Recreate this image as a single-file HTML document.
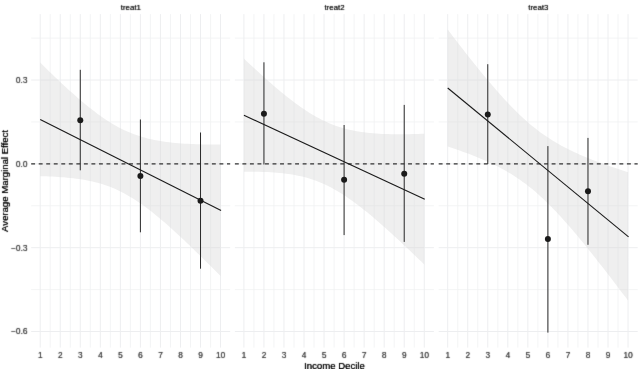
<!DOCTYPE html>
<html><head><meta charset="utf-8"><style>
html,body{margin:0;padding:0;background:#fff;width:638px;height:369px;overflow:hidden}
svg text{font-family:"Liberation Sans",sans-serif}
svg{will-change:transform}
</style></head><body>
<svg width="638" height="369" viewBox="0 0 638 369" style="position:absolute;left:0;top:0">
<defs><filter id="tsoft" filterUnits="userSpaceOnUse" x="0" y="0" width="638" height="369" color-interpolation-filters="sRGB"><feConvolveMatrix order="3" kernelMatrix="0.01440 0.09120 0.01440 0.09120 0.57760 0.09120 0.01440 0.09120 0.01440" edgeMode="duplicate" preserveAlpha="false"/></filter></defs>
<rect x="0" y="0" width="638" height="369" fill="#fff"/>
<line x1="31.18" x2="230.18" y1="38.10" y2="38.10" stroke="#f0f1f3" stroke-width="0.8"/>
<line x1="31.18" x2="230.18" y1="121.93" y2="121.93" stroke="#f0f1f3" stroke-width="0.8"/>
<line x1="31.18" x2="230.18" y1="205.77" y2="205.77" stroke="#f0f1f3" stroke-width="0.8"/>
<line x1="31.18" x2="230.18" y1="289.60" y2="289.60" stroke="#f0f1f3" stroke-width="0.8"/>
<line x1="50.22" x2="50.22" y1="14.10" y2="347.60" stroke="#f0f1f3" stroke-width="0.8"/>
<line x1="70.26" x2="70.26" y1="14.10" y2="347.60" stroke="#f0f1f3" stroke-width="0.8"/>
<line x1="90.30" x2="90.30" y1="14.10" y2="347.60" stroke="#f0f1f3" stroke-width="0.8"/>
<line x1="110.34" x2="110.34" y1="14.10" y2="347.60" stroke="#f0f1f3" stroke-width="0.8"/>
<line x1="130.38" x2="130.38" y1="14.10" y2="347.60" stroke="#f0f1f3" stroke-width="0.8"/>
<line x1="150.42" x2="150.42" y1="14.10" y2="347.60" stroke="#f0f1f3" stroke-width="0.8"/>
<line x1="170.46" x2="170.46" y1="14.10" y2="347.60" stroke="#f0f1f3" stroke-width="0.8"/>
<line x1="190.50" x2="190.50" y1="14.10" y2="347.60" stroke="#f0f1f3" stroke-width="0.8"/>
<line x1="210.54" x2="210.54" y1="14.10" y2="347.60" stroke="#f0f1f3" stroke-width="0.8"/>
<line x1="31.18" x2="230.18" y1="80.02" y2="80.02" stroke="#edeef0" stroke-width="1.0"/>
<line x1="31.18" x2="230.18" y1="163.85" y2="163.85" stroke="#edeef0" stroke-width="1.0"/>
<line x1="31.18" x2="230.18" y1="247.68" y2="247.68" stroke="#edeef0" stroke-width="1.0"/>
<line x1="31.18" x2="230.18" y1="331.51" y2="331.51" stroke="#edeef0" stroke-width="1.0"/>
<line x1="40.20" x2="40.20" y1="14.10" y2="347.60" stroke="#edeef0" stroke-width="1.0"/>
<line x1="60.24" x2="60.24" y1="14.10" y2="347.60" stroke="#edeef0" stroke-width="1.0"/>
<line x1="80.28" x2="80.28" y1="14.10" y2="347.60" stroke="#edeef0" stroke-width="1.0"/>
<line x1="100.32" x2="100.32" y1="14.10" y2="347.60" stroke="#edeef0" stroke-width="1.0"/>
<line x1="120.36" x2="120.36" y1="14.10" y2="347.60" stroke="#edeef0" stroke-width="1.0"/>
<line x1="140.40" x2="140.40" y1="14.10" y2="347.60" stroke="#edeef0" stroke-width="1.0"/>
<line x1="160.44" x2="160.44" y1="14.10" y2="347.60" stroke="#edeef0" stroke-width="1.0"/>
<line x1="180.48" x2="180.48" y1="14.10" y2="347.60" stroke="#edeef0" stroke-width="1.0"/>
<line x1="200.52" x2="200.52" y1="14.10" y2="347.60" stroke="#edeef0" stroke-width="1.0"/>
<line x1="220.56" x2="220.56" y1="14.10" y2="347.60" stroke="#edeef0" stroke-width="1.0"/>
<line x1="234.88" x2="433.88" y1="38.10" y2="38.10" stroke="#f0f1f3" stroke-width="0.8"/>
<line x1="234.88" x2="433.88" y1="121.93" y2="121.93" stroke="#f0f1f3" stroke-width="0.8"/>
<line x1="234.88" x2="433.88" y1="205.77" y2="205.77" stroke="#f0f1f3" stroke-width="0.8"/>
<line x1="234.88" x2="433.88" y1="289.60" y2="289.60" stroke="#f0f1f3" stroke-width="0.8"/>
<line x1="253.92" x2="253.92" y1="14.10" y2="347.60" stroke="#f0f1f3" stroke-width="0.8"/>
<line x1="273.96" x2="273.96" y1="14.10" y2="347.60" stroke="#f0f1f3" stroke-width="0.8"/>
<line x1="294.00" x2="294.00" y1="14.10" y2="347.60" stroke="#f0f1f3" stroke-width="0.8"/>
<line x1="314.04" x2="314.04" y1="14.10" y2="347.60" stroke="#f0f1f3" stroke-width="0.8"/>
<line x1="334.08" x2="334.08" y1="14.10" y2="347.60" stroke="#f0f1f3" stroke-width="0.8"/>
<line x1="354.12" x2="354.12" y1="14.10" y2="347.60" stroke="#f0f1f3" stroke-width="0.8"/>
<line x1="374.16" x2="374.16" y1="14.10" y2="347.60" stroke="#f0f1f3" stroke-width="0.8"/>
<line x1="394.20" x2="394.20" y1="14.10" y2="347.60" stroke="#f0f1f3" stroke-width="0.8"/>
<line x1="414.24" x2="414.24" y1="14.10" y2="347.60" stroke="#f0f1f3" stroke-width="0.8"/>
<line x1="234.88" x2="433.88" y1="80.02" y2="80.02" stroke="#edeef0" stroke-width="1.0"/>
<line x1="234.88" x2="433.88" y1="163.85" y2="163.85" stroke="#edeef0" stroke-width="1.0"/>
<line x1="234.88" x2="433.88" y1="247.68" y2="247.68" stroke="#edeef0" stroke-width="1.0"/>
<line x1="234.88" x2="433.88" y1="331.51" y2="331.51" stroke="#edeef0" stroke-width="1.0"/>
<line x1="243.90" x2="243.90" y1="14.10" y2="347.60" stroke="#edeef0" stroke-width="1.0"/>
<line x1="263.94" x2="263.94" y1="14.10" y2="347.60" stroke="#edeef0" stroke-width="1.0"/>
<line x1="283.98" x2="283.98" y1="14.10" y2="347.60" stroke="#edeef0" stroke-width="1.0"/>
<line x1="304.02" x2="304.02" y1="14.10" y2="347.60" stroke="#edeef0" stroke-width="1.0"/>
<line x1="324.06" x2="324.06" y1="14.10" y2="347.60" stroke="#edeef0" stroke-width="1.0"/>
<line x1="344.10" x2="344.10" y1="14.10" y2="347.60" stroke="#edeef0" stroke-width="1.0"/>
<line x1="364.14" x2="364.14" y1="14.10" y2="347.60" stroke="#edeef0" stroke-width="1.0"/>
<line x1="384.18" x2="384.18" y1="14.10" y2="347.60" stroke="#edeef0" stroke-width="1.0"/>
<line x1="404.22" x2="404.22" y1="14.10" y2="347.60" stroke="#edeef0" stroke-width="1.0"/>
<line x1="424.26" x2="424.26" y1="14.10" y2="347.60" stroke="#edeef0" stroke-width="1.0"/>
<line x1="438.68" x2="637.68" y1="38.10" y2="38.10" stroke="#f0f1f3" stroke-width="0.8"/>
<line x1="438.68" x2="637.68" y1="121.93" y2="121.93" stroke="#f0f1f3" stroke-width="0.8"/>
<line x1="438.68" x2="637.68" y1="205.77" y2="205.77" stroke="#f0f1f3" stroke-width="0.8"/>
<line x1="438.68" x2="637.68" y1="289.60" y2="289.60" stroke="#f0f1f3" stroke-width="0.8"/>
<line x1="457.72" x2="457.72" y1="14.10" y2="347.60" stroke="#f0f1f3" stroke-width="0.8"/>
<line x1="477.76" x2="477.76" y1="14.10" y2="347.60" stroke="#f0f1f3" stroke-width="0.8"/>
<line x1="497.80" x2="497.80" y1="14.10" y2="347.60" stroke="#f0f1f3" stroke-width="0.8"/>
<line x1="517.84" x2="517.84" y1="14.10" y2="347.60" stroke="#f0f1f3" stroke-width="0.8"/>
<line x1="537.88" x2="537.88" y1="14.10" y2="347.60" stroke="#f0f1f3" stroke-width="0.8"/>
<line x1="557.92" x2="557.92" y1="14.10" y2="347.60" stroke="#f0f1f3" stroke-width="0.8"/>
<line x1="577.96" x2="577.96" y1="14.10" y2="347.60" stroke="#f0f1f3" stroke-width="0.8"/>
<line x1="598.00" x2="598.00" y1="14.10" y2="347.60" stroke="#f0f1f3" stroke-width="0.8"/>
<line x1="618.04" x2="618.04" y1="14.10" y2="347.60" stroke="#f0f1f3" stroke-width="0.8"/>
<line x1="438.68" x2="637.68" y1="80.02" y2="80.02" stroke="#edeef0" stroke-width="1.0"/>
<line x1="438.68" x2="637.68" y1="163.85" y2="163.85" stroke="#edeef0" stroke-width="1.0"/>
<line x1="438.68" x2="637.68" y1="247.68" y2="247.68" stroke="#edeef0" stroke-width="1.0"/>
<line x1="438.68" x2="637.68" y1="331.51" y2="331.51" stroke="#edeef0" stroke-width="1.0"/>
<line x1="447.70" x2="447.70" y1="14.10" y2="347.60" stroke="#edeef0" stroke-width="1.0"/>
<line x1="467.74" x2="467.74" y1="14.10" y2="347.60" stroke="#edeef0" stroke-width="1.0"/>
<line x1="487.78" x2="487.78" y1="14.10" y2="347.60" stroke="#edeef0" stroke-width="1.0"/>
<line x1="507.82" x2="507.82" y1="14.10" y2="347.60" stroke="#edeef0" stroke-width="1.0"/>
<line x1="527.86" x2="527.86" y1="14.10" y2="347.60" stroke="#edeef0" stroke-width="1.0"/>
<line x1="547.90" x2="547.90" y1="14.10" y2="347.60" stroke="#edeef0" stroke-width="1.0"/>
<line x1="567.94" x2="567.94" y1="14.10" y2="347.60" stroke="#edeef0" stroke-width="1.0"/>
<line x1="587.98" x2="587.98" y1="14.10" y2="347.60" stroke="#edeef0" stroke-width="1.0"/>
<line x1="608.02" x2="608.02" y1="14.10" y2="347.60" stroke="#edeef0" stroke-width="1.0"/>
<line x1="628.06" x2="628.06" y1="14.10" y2="347.60" stroke="#edeef0" stroke-width="1.0"/>
<path d="M40.20,62.60 L43.21,65.56 L46.21,68.50 L49.22,71.42 L52.22,74.32 L55.23,77.20 L58.24,80.05 L61.24,82.88 L64.25,85.68 L67.25,88.44 L70.26,91.17 L73.27,93.87 L76.27,96.52 L79.28,99.13 L82.28,101.69 L85.29,104.20 L88.30,106.65 L91.30,109.05 L94.31,111.37 L97.31,113.63 L100.32,115.82 L103.33,117.92 L106.33,119.95 L109.34,121.88 L112.34,123.73 L115.35,125.48 L118.36,127.14 L121.36,128.70 L124.37,130.17 L127.37,131.54 L130.38,132.82 L133.39,134.00 L136.39,135.09 L139.40,136.09 L142.40,137.02 L145.41,137.86 L148.42,138.63 L151.42,139.33 L154.43,139.97 L157.43,140.55 L160.44,141.07 L163.45,141.53 L166.45,141.95 L169.46,142.33 L172.46,142.67 L175.47,142.97 L178.48,143.23 L181.48,143.46 L184.49,143.67 L187.49,143.84 L190.50,143.99 L193.51,144.12 L196.51,144.23 L199.52,144.32 L202.52,144.39 L205.53,144.44 L208.54,144.48 L211.54,144.50 L214.55,144.51 L217.55,144.51 L220.56,144.50 L220.56,276.10 L217.55,273.06 L214.55,270.03 L211.54,267.01 L208.54,264.00 L205.53,261.01 L202.52,258.03 L199.52,255.07 L196.51,252.13 L193.51,249.21 L190.50,246.31 L187.49,243.43 L184.49,240.57 L181.48,237.75 L178.48,234.95 L175.47,232.18 L172.46,229.45 L169.46,226.76 L166.45,224.11 L163.45,221.50 L160.44,218.93 L157.43,216.42 L154.43,213.97 L151.42,211.58 L148.42,209.25 L145.41,206.99 L142.40,204.80 L139.40,202.70 L136.39,200.67 L133.39,198.73 L130.38,196.88 L127.37,195.13 L124.37,193.47 L121.36,191.91 L118.36,190.44 L115.35,189.07 L112.34,187.79 L109.34,186.61 L106.33,185.51 L103.33,184.51 L100.32,183.58 L97.31,182.74 L94.31,181.97 L91.30,181.26 L88.30,180.63 L85.29,180.05 L82.28,179.53 L79.28,179.06 L76.27,178.64 L73.27,178.26 L70.26,177.93 L67.25,177.63 L64.25,177.36 L61.24,177.13 L58.24,176.93 L55.23,176.75 L52.22,176.60 L49.22,176.47 L46.21,176.36 L43.21,176.27 L40.20,176.20Z" fill="rgba(215,215,215,0.4)"/>
<path d="M243.90,58.60 L246.91,61.43 L249.91,64.24 L252.92,67.04 L255.92,69.81 L258.93,72.56 L261.94,75.28 L264.94,77.98 L267.95,80.65 L270.95,83.29 L273.96,85.89 L276.97,88.46 L279.97,90.99 L282.98,93.47 L285.98,95.90 L288.99,98.29 L292.00,100.62 L295.00,102.88 L298.01,105.09 L301.01,107.22 L304.02,109.29 L307.03,111.27 L310.03,113.18 L313.04,114.99 L316.04,116.72 L319.05,118.36 L322.06,119.91 L325.06,121.35 L328.07,122.71 L331.07,123.97 L334.08,125.13 L337.09,126.21 L340.09,127.19 L343.10,128.09 L346.10,128.91 L349.11,129.65 L352.12,130.31 L355.12,130.91 L358.13,131.44 L361.13,131.91 L364.14,132.33 L367.15,132.69 L370.15,133.01 L373.16,133.29 L376.16,133.52 L379.17,133.71 L382.18,133.88 L385.18,134.00 L388.19,134.11 L391.19,134.18 L394.20,134.23 L397.21,134.25 L400.21,134.26 L403.22,134.24 L406.22,134.21 L409.23,134.16 L412.24,134.09 L415.24,134.02 L418.25,133.92 L421.25,133.82 L424.26,133.70 L424.26,264.50 L421.25,261.59 L418.25,258.68 L415.24,255.79 L412.24,252.92 L409.23,250.06 L406.22,247.21 L403.22,244.38 L400.21,241.57 L397.21,238.78 L394.20,236.01 L391.19,233.26 L388.19,230.53 L385.18,227.84 L382.18,225.17 L379.17,222.54 L376.16,219.93 L373.16,217.37 L370.15,214.85 L367.15,212.37 L364.14,209.94 L361.13,207.56 L358.13,205.23 L355.12,202.97 L352.12,200.77 L349.11,198.64 L346.10,196.58 L343.10,194.60 L340.09,192.70 L337.09,190.89 L334.08,189.17 L331.07,187.54 L328.07,186.00 L325.06,184.56 L322.06,183.21 L319.05,181.96 L316.04,180.80 L313.04,179.73 L310.03,178.75 L307.03,177.86 L304.02,177.05 L301.01,176.31 L298.01,175.65 L295.00,175.06 L292.00,174.53 L288.99,174.06 L285.98,173.65 L282.98,173.29 L279.97,172.97 L276.97,172.70 L273.96,172.47 L270.95,172.28 L267.95,172.12 L264.94,171.99 L261.94,171.90 L258.93,171.82 L255.92,171.78 L252.92,171.75 L249.91,171.75 L246.91,171.77 L243.90,171.80Z" fill="rgba(215,215,215,0.4)"/>
<path d="M447.70,29.60 L450.71,33.54 L453.71,37.46 L456.72,41.36 L459.72,45.24 L462.73,49.11 L465.74,52.95 L468.74,56.76 L471.75,60.55 L474.75,64.31 L477.76,68.04 L480.77,71.73 L483.77,75.38 L486.78,79.00 L489.78,82.57 L492.79,86.10 L495.80,89.57 L498.80,92.99 L501.81,96.34 L504.81,99.64 L507.82,102.86 L510.83,106.01 L513.83,109.08 L516.84,112.07 L519.84,114.97 L522.85,117.78 L525.86,120.50 L528.86,123.13 L531.87,125.65 L534.87,128.08 L537.88,130.42 L540.89,132.66 L543.89,134.81 L546.90,136.86 L549.90,138.83 L552.91,140.72 L555.92,142.52 L558.92,144.26 L561.93,145.92 L564.93,147.52 L567.94,149.05 L570.95,150.54 L573.95,151.96 L576.96,153.35 L579.96,154.68 L582.97,155.98 L585.98,157.24 L588.98,158.46 L591.99,159.65 L594.99,160.81 L598.00,161.95 L601.01,163.06 L604.01,164.15 L607.02,165.21 L610.02,166.26 L613.03,167.29 L616.04,168.30 L619.04,169.29 L622.05,170.28 L625.05,171.24 L628.06,172.20 L628.06,300.60 L625.05,296.61 L622.05,292.63 L619.04,288.67 L616.04,284.72 L613.03,280.78 L610.02,276.86 L607.02,272.96 L604.01,269.08 L601.01,265.22 L598.00,261.39 L594.99,257.57 L591.99,253.79 L588.98,250.03 L585.98,246.31 L582.97,242.62 L579.96,238.97 L576.96,235.36 L573.95,231.80 L570.95,228.28 L567.94,224.81 L564.93,221.40 L561.93,218.05 L558.92,214.77 L555.92,211.56 L552.91,208.42 L549.90,205.36 L546.90,202.38 L543.89,199.49 L540.89,196.69 L537.88,193.98 L534.87,191.37 L531.87,188.85 L528.86,186.43 L525.86,184.11 L522.85,181.89 L519.84,179.75 L516.84,177.71 L513.83,175.75 L510.83,173.87 L507.82,172.08 L504.81,170.35 L501.81,168.70 L498.80,167.11 L495.80,165.58 L492.79,164.10 L489.78,162.68 L486.78,161.31 L483.77,159.98 L480.77,158.68 L477.76,157.43 L474.75,156.21 L471.75,155.02 L468.74,153.87 L465.74,152.73 L462.73,151.63 L459.72,150.54 L456.72,149.48 L453.71,148.44 L450.71,147.41 L447.70,146.40Z" fill="rgba(215,215,215,0.4)"/>
<line x1="31.18" x2="230.18" y1="163.85" y2="163.85" stroke="#333333" stroke-width="1.3" stroke-dasharray="3.9 3.63"/>
<line x1="234.88" x2="433.88" y1="163.85" y2="163.85" stroke="#333333" stroke-width="1.3" stroke-dasharray="3.9 3.63"/>
<line x1="438.68" x2="637.68" y1="163.85" y2="163.85" stroke="#333333" stroke-width="1.3" stroke-dasharray="3.9 3.63"/>
<line x1="80.28" x2="80.28" y1="69.80" y2="170.30" stroke="#2a2a2a" stroke-width="1.0"/>
<line x1="140.40" x2="140.40" y1="119.50" y2="232.30" stroke="#2a2a2a" stroke-width="1.0"/>
<line x1="200.52" x2="200.52" y1="132.50" y2="268.70" stroke="#2a2a2a" stroke-width="1.0"/>
<line x1="40.20" x2="221.06" y1="119.40" y2="210.55" stroke="#1a1a1a" stroke-width="1.1"/>
<circle cx="80.28" cy="120.20" r="3.0" fill="#1a1a1a"/>
<circle cx="140.40" cy="176.10" r="3.0" fill="#1a1a1a"/>
<circle cx="200.52" cy="200.80" r="3.0" fill="#1a1a1a"/>
<line x1="263.94" x2="263.94" y1="62.30" y2="164.50" stroke="#2a2a2a" stroke-width="1.0"/>
<line x1="344.10" x2="344.10" y1="125.00" y2="235.10" stroke="#2a2a2a" stroke-width="1.0"/>
<line x1="404.22" x2="404.22" y1="104.90" y2="241.90" stroke="#2a2a2a" stroke-width="1.0"/>
<line x1="243.90" x2="424.76" y1="115.20" y2="199.33" stroke="#1a1a1a" stroke-width="1.1"/>
<circle cx="263.94" cy="113.70" r="3.0" fill="#1a1a1a"/>
<circle cx="344.10" cy="179.70" r="3.0" fill="#1a1a1a"/>
<circle cx="404.22" cy="173.80" r="3.0" fill="#1a1a1a"/>
<line x1="487.78" x2="487.78" y1="64.20" y2="164.00" stroke="#2a2a2a" stroke-width="1.0"/>
<line x1="547.90" x2="547.90" y1="146.10" y2="332.60" stroke="#2a2a2a" stroke-width="1.0"/>
<line x1="587.98" x2="587.98" y1="137.90" y2="244.80" stroke="#2a2a2a" stroke-width="1.0"/>
<line x1="447.70" x2="628.56" y1="88.00" y2="236.81" stroke="#1a1a1a" stroke-width="1.1"/>
<circle cx="487.78" cy="114.40" r="3.0" fill="#1a1a1a"/>
<circle cx="547.90" cy="239.00" r="3.0" fill="#1a1a1a"/>
<circle cx="587.98" cy="191.20" r="3.0" fill="#1a1a1a"/>
<g filter="url(#tsoft)">
<g transform="translate(130.78,10.40) scale(1,1.0)" font-size="7.9" fill="#1a1a1a" text-anchor="middle"><text>treat1</text><text x="0.1">treat1</text></g>
<g transform="translate(40.20,358.20) scale(1,1.0)" font-size="8.3" fill="#444444" text-anchor="middle"><text>1</text><text x="0.15">1</text></g>
<g transform="translate(60.24,358.20) scale(1,1.0)" font-size="8.3" fill="#444444" text-anchor="middle"><text>2</text><text x="0.15">2</text></g>
<g transform="translate(80.28,358.20) scale(1,1.0)" font-size="8.3" fill="#444444" text-anchor="middle"><text>3</text><text x="0.15">3</text></g>
<g transform="translate(100.32,358.20) scale(1,1.0)" font-size="8.3" fill="#444444" text-anchor="middle"><text>4</text><text x="0.15">4</text></g>
<g transform="translate(120.36,358.20) scale(1,1.0)" font-size="8.3" fill="#444444" text-anchor="middle"><text>5</text><text x="0.15">5</text></g>
<g transform="translate(140.40,358.20) scale(1,1.0)" font-size="8.3" fill="#444444" text-anchor="middle"><text>6</text><text x="0.15">6</text></g>
<g transform="translate(160.44,358.20) scale(1,1.0)" font-size="8.3" fill="#444444" text-anchor="middle"><text>7</text><text x="0.15">7</text></g>
<g transform="translate(180.48,358.20) scale(1,1.0)" font-size="8.3" fill="#444444" text-anchor="middle"><text>8</text><text x="0.15">8</text></g>
<g transform="translate(200.52,358.20) scale(1,1.0)" font-size="8.3" fill="#444444" text-anchor="middle"><text>9</text><text x="0.15">9</text></g>
<g transform="translate(220.56,358.20) scale(1,1.0)" font-size="8.3" fill="#444444" text-anchor="middle"><text>10</text><text x="0.15">10</text></g>
<g transform="translate(334.48,10.40) scale(1,1.0)" font-size="7.9" fill="#1a1a1a" text-anchor="middle"><text>treat2</text><text x="0.1">treat2</text></g>
<g transform="translate(243.90,358.20) scale(1,1.0)" font-size="8.3" fill="#444444" text-anchor="middle"><text>1</text><text x="0.15">1</text></g>
<g transform="translate(263.94,358.20) scale(1,1.0)" font-size="8.3" fill="#444444" text-anchor="middle"><text>2</text><text x="0.15">2</text></g>
<g transform="translate(283.98,358.20) scale(1,1.0)" font-size="8.3" fill="#444444" text-anchor="middle"><text>3</text><text x="0.15">3</text></g>
<g transform="translate(304.02,358.20) scale(1,1.0)" font-size="8.3" fill="#444444" text-anchor="middle"><text>4</text><text x="0.15">4</text></g>
<g transform="translate(324.06,358.20) scale(1,1.0)" font-size="8.3" fill="#444444" text-anchor="middle"><text>5</text><text x="0.15">5</text></g>
<g transform="translate(344.10,358.20) scale(1,1.0)" font-size="8.3" fill="#444444" text-anchor="middle"><text>6</text><text x="0.15">6</text></g>
<g transform="translate(364.14,358.20) scale(1,1.0)" font-size="8.3" fill="#444444" text-anchor="middle"><text>7</text><text x="0.15">7</text></g>
<g transform="translate(384.18,358.20) scale(1,1.0)" font-size="8.3" fill="#444444" text-anchor="middle"><text>8</text><text x="0.15">8</text></g>
<g transform="translate(404.22,358.20) scale(1,1.0)" font-size="8.3" fill="#444444" text-anchor="middle"><text>9</text><text x="0.15">9</text></g>
<g transform="translate(424.26,358.20) scale(1,1.0)" font-size="8.3" fill="#444444" text-anchor="middle"><text>10</text><text x="0.15">10</text></g>
<g transform="translate(538.28,10.40) scale(1,1.0)" font-size="7.9" fill="#1a1a1a" text-anchor="middle"><text>treat3</text><text x="0.1">treat3</text></g>
<g transform="translate(447.70,358.20) scale(1,1.0)" font-size="8.3" fill="#444444" text-anchor="middle"><text>1</text><text x="0.15">1</text></g>
<g transform="translate(467.74,358.20) scale(1,1.0)" font-size="8.3" fill="#444444" text-anchor="middle"><text>2</text><text x="0.15">2</text></g>
<g transform="translate(487.78,358.20) scale(1,1.0)" font-size="8.3" fill="#444444" text-anchor="middle"><text>3</text><text x="0.15">3</text></g>
<g transform="translate(507.82,358.20) scale(1,1.0)" font-size="8.3" fill="#444444" text-anchor="middle"><text>4</text><text x="0.15">4</text></g>
<g transform="translate(527.86,358.20) scale(1,1.0)" font-size="8.3" fill="#444444" text-anchor="middle"><text>5</text><text x="0.15">5</text></g>
<g transform="translate(547.90,358.20) scale(1,1.0)" font-size="8.3" fill="#444444" text-anchor="middle"><text>6</text><text x="0.15">6</text></g>
<g transform="translate(567.94,358.20) scale(1,1.0)" font-size="8.3" fill="#444444" text-anchor="middle"><text>7</text><text x="0.15">7</text></g>
<g transform="translate(587.98,358.20) scale(1,1.0)" font-size="8.3" fill="#444444" text-anchor="middle"><text>8</text><text x="0.15">8</text></g>
<g transform="translate(608.02,358.20) scale(1,1.0)" font-size="8.3" fill="#444444" text-anchor="middle"><text>9</text><text x="0.15">9</text></g>
<g transform="translate(628.06,358.20) scale(1,1.0)" font-size="8.3" fill="#444444" text-anchor="middle"><text>10</text><text x="0.15">10</text></g>
<g transform="translate(27.40,82.92) scale(1,1.0)" font-size="8.3" fill="#444444" text-anchor="end"><text>0.3</text><text x="0.15">0.3</text></g>
<g transform="translate(27.40,166.75) scale(1,1.0)" font-size="8.3" fill="#444444" text-anchor="end"><text>0.0</text><text x="0.15">0.0</text></g>
<g transform="translate(27.40,250.58) scale(1,1.0)" font-size="8.3" fill="#444444" text-anchor="end"><text>−0.3</text><text x="0.15">−0.3</text></g>
<g transform="translate(27.40,334.41) scale(1,1.0)" font-size="8.3" fill="#444444" text-anchor="end"><text>−0.6</text><text x="0.15">−0.6</text></g>
<g transform="translate(334.40,369.00) scale(1,1.0)" font-size="9.6" fill="#000000" text-anchor="middle"><text>Income Decile</text><text x="0.12">Income Decile</text></g>
<g transform="translate(8.10,181.00) rotate(-90) scale(1,1.0)" font-size="9.6" fill="#000000" text-anchor="middle"><text>Average Marginal Effect</text><text x="0.12">Average Marginal Effect</text></g>
</g>
</svg>
</body></html>
